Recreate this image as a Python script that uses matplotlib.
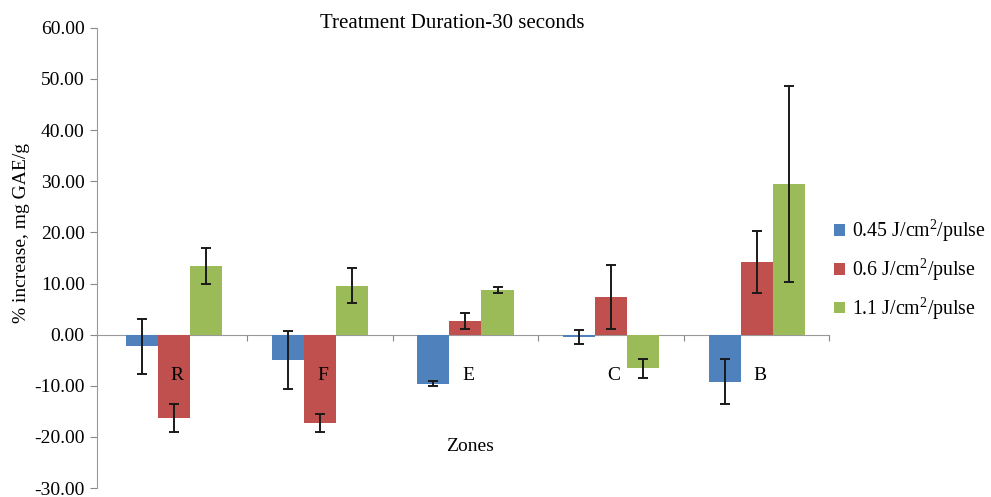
import numpy as np
import matplotlib
matplotlib.use("Agg")
import matplotlib.pyplot as plt

plt.rcParams['font.family'] = ['Liberation Serif', 'DejaVu Serif']
plt.rcParams['mathtext.fontset'] = 'custom'
plt.rcParams['mathtext.rm'] = 'Liberation Serif'

zones = ['R', 'F', 'E', 'C', 'B']
series = [r'0.45 J/cm$^{2}$/pulse', r'0.6 J/cm$^{2}$/pulse', r'1.1 J/cm$^{2}$/pulse']
colors = ['#4F81BD', '#C0504D', '#9BBB59']

v045 = [-2.3, -4.9, -9.6, -0.4, -9.2]
e045 = [5.4, 5.7, 0.5, 1.35, 4.4]
v06 = [-16.3, -17.3, 2.7, 7.4, 14.2]
e06 = [2.7, 1.75, 1.5, 6.3, 6.0]
v11 = [13.4, 9.6, 8.8, -6.6, 29.4]
e11 = [3.5, 3.5, 0.6, 1.9, 19.2]

fig = plt.figure(figsize=(9.91, 4.97), dpi=100)
ax = fig.add_axes([0.098, 0.018, 0.739, 0.926])

x = np.arange(len(zones))
w = 0.22
for i, (vals, errs) in enumerate([(v045, e045), (v06, e06), (v11, e11)]):
    ax.bar(x + (i - 1) * w, vals, w, color=colors[i], label=series[i], zorder=2)
    ax.errorbar(x + (i - 1) * w, vals, yerr=errs, fmt='none', ecolor='#1a1a1a',
                elinewidth=1.4, capsize=3.5, capthick=1.4, zorder=3)

for xi, z in zip(x, zones):
    ax.text(xi + 0.02, -7.9, z, ha='center', va='center', fontsize=14)

ax.set_xlim(-0.53, 4.5)
ax.set_ylim(-30, 60)
ax.set_yticks(np.arange(-30, 61, 10))
ax.set_yticklabels(['%.2f' % t for t in np.arange(-30, 61, 10)], fontsize=14)
ax.set_xticks(np.arange(0.5, 4.6, 1))
ax.set_xticklabels([])
ax.tick_params(axis='x', direction='out', length=4, color='#888888')
ax.tick_params(axis='y', direction='out', length=5, color='#888888', pad=4)

ax.spines['top'].set_visible(False)
ax.spines['right'].set_visible(False)
ax.spines['bottom'].set_position(('data', 0))
ax.spines['bottom'].set_color('#999999')
ax.spines['left'].set_color('#999999')
ax.spines['bottom'].set_zorder(1)

ax.text(2.03, -21.8, 'Zones', ha='center', va='center', fontsize=14)
fig.text(0.456, 0.953, 'Treatment Duration-30 seconds', ha='center', va='center', fontsize=15)
fig.text(0.022, 1 - 233 / 497, '% increase, mg GAE/g', rotation=90, ha='center', va='center', fontsize=14)

ax.legend(loc='center left', bbox_to_anchor=(0.99, 0.475), frameon=False, fontsize=14.3,
          handlelength=0.55, handleheight=0.55, handletextpad=0.35, labelspacing=0.6,
          borderaxespad=0.2)

fig.savefig('out.png', dpi=100)
